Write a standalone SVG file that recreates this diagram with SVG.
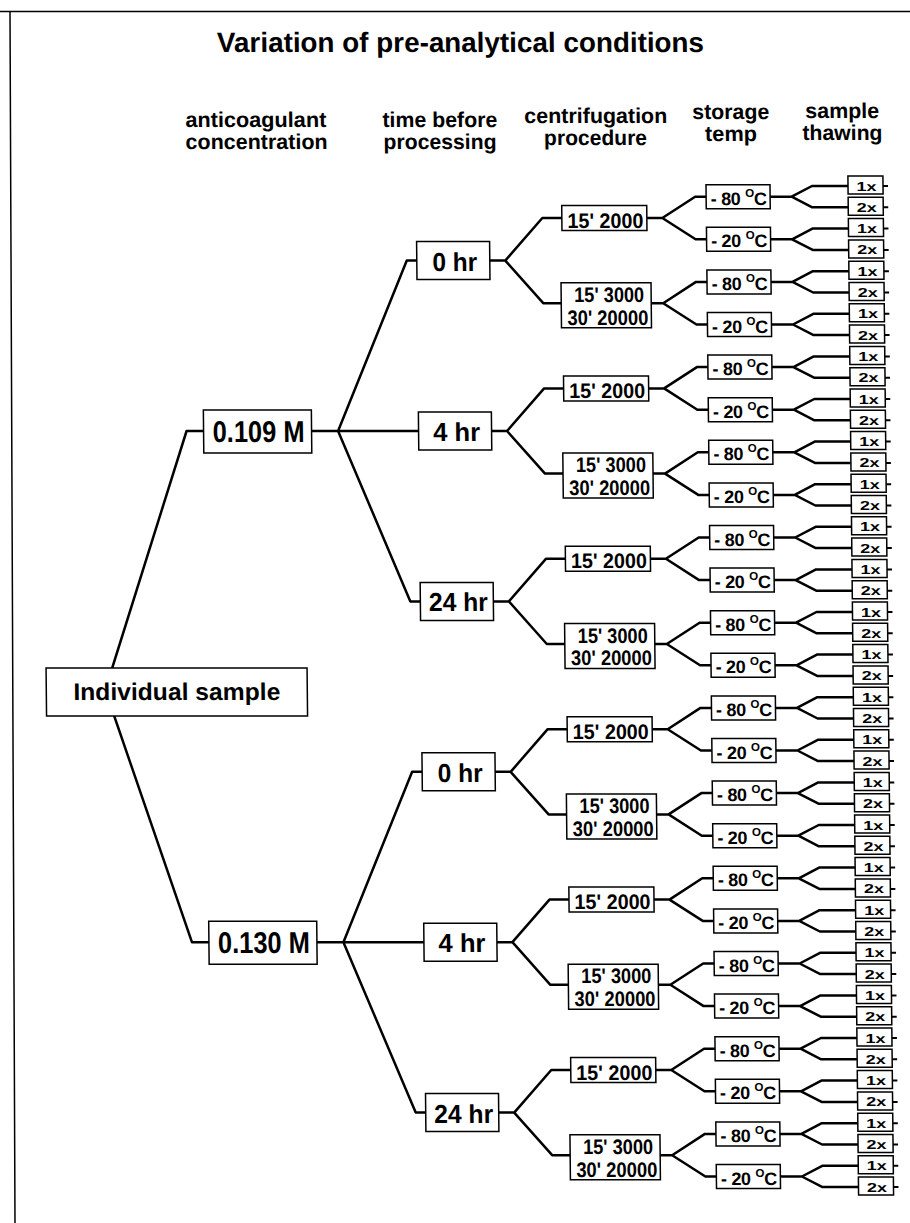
<svg xmlns="http://www.w3.org/2000/svg" width="910" height="1223" viewBox="0 0 910 1223">
<style>
text{font-family:"Liberation Sans",Arial,sans-serif;font-weight:bold;fill:#000;text-anchor:middle}
.box rect{fill:#fff;stroke:#000;stroke-width:1.5}
#connectors path{fill:none;stroke:#000;stroke-width:2.5;stroke-linejoin:round}
#connectors path.tick{stroke-width:2}
.title{font-size:28px}
.hdr{font-size:21.5px}
.root text{font-size:24px}
.anti text{font-size:30px}
.time text{font-size:26px}
.cent text{font-size:21px}
.stor text{font-size:18px;letter-spacing:-0.3px}
.stor tspan.o{font-size:11.5px}
.leaf text{font-size:13px}
</style>
<rect width="910" height="1223" fill="#fff"/>
<path d="M0 11.5 H910 M10 11.5 L15 1223" stroke="#000" stroke-width="1.5" fill="none"/>
<g transform="translate(-1.94,0) skewX(0.6)">
<g id="headers">
<text class="title" x="462" y="52" textLength="487" lengthAdjust="spacingAndGlyphs">Variation of pre-analytical conditions</text>
<text class="hdr" x="256.5" y="127" textLength="141" lengthAdjust="spacingAndGlyphs">anticoagulant</text>
<text class="hdr" x="257" y="149" textLength="142" lengthAdjust="spacingAndGlyphs">concentration</text>
<text class="hdr" x="440.5" y="127" textLength="115" lengthAdjust="spacingAndGlyphs">time before</text>
<text class="hdr" x="440.5" y="149" textLength="113" lengthAdjust="spacingAndGlyphs">processing</text>
<text class="hdr" x="596.5" y="123" textLength="143" lengthAdjust="spacingAndGlyphs">centrifugation</text>
<text class="hdr" x="596" y="145" textLength="103" lengthAdjust="spacingAndGlyphs">procedure</text>
<text class="hdr" x="731.5" y="119" textLength="77" lengthAdjust="spacingAndGlyphs">storage</text>
<text class="hdr" x="731.5" y="141" textLength="52" lengthAdjust="spacingAndGlyphs">temp</text>
<text class="hdr" x="843" y="118" textLength="74" lengthAdjust="spacingAndGlyphs">sample</text>
<text class="hdr" x="843" y="140" textLength="80" lengthAdjust="spacingAndGlyphs">thawing</text>
</g>
<g id="connectors">
<path d="M100 690 L184 431 H201 M100 690 L184 942.2 H201"/>
<path d="M309 431 H335.5 L406 260.6 H416 M335.5 431 H416 M335.5 431 L406 601.4 H416"/>
<path d="M309 942.2 H335.5 L406 771.8 H416 M335.5 942.2 H416 M335.5 942.2 L406 1112.6 H416"/>
<path d="M489 260.6 H504.5 L542 218 H561.5 M504.5 260.6 L542 303.2 H560"/>
<path d="M489 431 H504.5 L542 388.4 H561.5 M504.5 431 L542 473.6 H560"/>
<path d="M489 601.4 H504.5 L542 558.8 H561.5 M504.5 601.4 L542 644 H560"/>
<path d="M489 771.8 H504.5 L542 729.2 H561.5 M504.5 771.8 L542 814.4 H560"/>
<path d="M489 942.2 H504.5 L542 899.6 H561.5 M504.5 942.2 L542 984.8 H560"/>
<path d="M489 1112.6 H504.5 L542 1070 H561.5 M504.5 1112.6 L542 1155.2 H560"/>
<path d="M646.5 218 H662 L695 196.7 H706 M662 218 L695 239.3 H706"/>
<path d="M650 303.2 H662 L695 281.9 H706 M662 303.2 L695 324.5 H706"/>
<path d="M646.5 388.4 H662 L695 367.1 H706 M662 388.4 L695 409.7 H706"/>
<path d="M650 473.6 H662 L695 452.3 H706 M662 473.6 L695 494.9 H706"/>
<path d="M646.5 558.8 H662 L695 537.5 H706 M662 558.8 L695 580.1 H706"/>
<path d="M650 644 H662 L695 622.7 H706 M662 644 L695 665.3 H706"/>
<path d="M646.5 729.2 H662 L695 707.9 H706 M662 729.2 L695 750.5 H706"/>
<path d="M650 814.4 H662 L695 793.1 H706 M662 814.4 L695 835.7 H706"/>
<path d="M646.5 899.6 H662 L695 878.3 H706 M662 899.6 L695 920.9 H706"/>
<path d="M650 984.8 H662 L695 963.5 H706 M662 984.8 L695 1006.1 H706"/>
<path d="M646.5 1070 H662 L695 1048.7 H706 M662 1070 L695 1091.3 H706"/>
<path d="M650 1155.2 H662 L695 1133.9 H706 M662 1155.2 L695 1176.5 H706"/>
<path d="M770 196.7 H791.5 L812 186 H848 M791.5 196.7 L812 207.3 H848"/>
<path d="M770 239.3 H791.5 L812 228.6 H848 M791.5 239.3 L812 249.9 H848"/>
<path d="M770 281.9 H791.5 L812 271.2 H848 M791.5 281.9 L812 292.5 H848"/>
<path d="M770 324.5 H791.5 L812 313.8 H848 M791.5 324.5 L812 335.1 H848"/>
<path d="M770 367.1 H791.5 L812 356.4 H848 M791.5 367.1 L812 377.7 H848"/>
<path d="M770 409.7 H791.5 L812 399 H848 M791.5 409.7 L812 420.3 H848"/>
<path d="M770 452.3 H791.5 L812 441.6 H848 M791.5 452.3 L812 462.9 H848"/>
<path d="M770 494.9 H791.5 L812 484.2 H848 M791.5 494.9 L812 505.5 H848"/>
<path d="M770 537.5 H791.5 L812 526.8 H848 M791.5 537.5 L812 548.1 H848"/>
<path d="M770 580.1 H791.5 L812 569.4 H848 M791.5 580.1 L812 590.7 H848"/>
<path d="M770 622.7 H791.5 L812 612 H848 M791.5 622.7 L812 633.3 H848"/>
<path d="M770 665.3 H791.5 L812 654.6 H848 M791.5 665.3 L812 675.9 H848"/>
<path d="M770 707.9 H791.5 L812 697.2 H848 M791.5 707.9 L812 718.5 H848"/>
<path d="M770 750.5 H791.5 L812 739.8 H848 M791.5 750.5 L812 761.1 H848"/>
<path d="M770 793.1 H791.5 L812 782.4 H848 M791.5 793.1 L812 803.7 H848"/>
<path d="M770 835.7 H791.5 L812 825 H848 M791.5 835.7 L812 846.3 H848"/>
<path d="M770 878.3 H791.5 L812 867.6 H848 M791.5 878.3 L812 888.9 H848"/>
<path d="M770 920.9 H791.5 L812 910.2 H848 M791.5 920.9 L812 931.5 H848"/>
<path d="M770 963.5 H791.5 L812 952.8 H848 M791.5 963.5 L812 974.1 H848"/>
<path d="M770 1006.1 H791.5 L812 995.4 H848 M791.5 1006.1 L812 1016.7 H848"/>
<path d="M770 1048.7 H791.5 L812 1038 H848 M791.5 1048.7 L812 1059.3 H848"/>
<path d="M770 1091.3 H791.5 L812 1080.6 H848 M791.5 1091.3 L812 1101.9 H848"/>
<path d="M770 1133.9 H791.5 L812 1123.2 H848 M791.5 1133.9 L812 1144.5 H848"/>
<path d="M770 1176.5 H791.5 L812 1165.8 H848 M791.5 1176.5 L812 1187.1 H848"/>
<path class="tick" d="M883 186H888M883 207.3H888M883 228.6H888M883 249.9H888M883 271.2H888M883 292.5H888M883 313.8H888M883 335.1H888M883 356.4H888M883 377.7H888M883 399H888M883 420.3H888M883 441.6H888M883 462.9H888M883 484.2H888M883 505.5H888M883 526.8H888M883 548.1H888M883 569.4H888M883 590.7H888M883 612H888M883 633.3H888M883 654.6H888M883 675.9H888M883 697.2H888M883 718.5H888M883 739.8H888M883 761.1H888M883 782.4H888M883 803.7H888M883 825H888M883 846.3H888M883 867.6H888M883 888.9H888M883 910.2H888M883 931.5H888M883 952.8H888M883 974.1H888M883 995.4H888M883 1016.7H888M883 1038H888M883 1059.3H888M883 1080.6H888M883 1101.9H888M883 1123.2H888M883 1144.5H888M883 1165.8H888M883 1187.1H888"/>
</g>
<g id="n-root" class="box root"><rect x="41" y="668" width="261" height="48"/><text x="171.5" y="700" textLength="207" lengthAdjust="spacingAndGlyphs">Individual sample</text></g>
<g id="n-a0109" class="box anti" transform="translate(201,431)"><rect x="0" y="-21" width="108" height="43"/><text x="55" y="10.5" textLength="92" lengthAdjust="spacingAndGlyphs">0.109 M</text></g>
<g id="n-a0130" class="box anti" transform="translate(201,942.2)"><rect x="0" y="-21" width="108" height="43"/><text x="55" y="10.5" textLength="92" lengthAdjust="spacingAndGlyphs">0.130 M</text></g>
<g id="n-t0" class="box time" transform="translate(416,260.6)"><rect x="0" y="-19" width="73" height="38"/><text x="38" y="10" textLength="45" lengthAdjust="spacingAndGlyphs">0 hr</text></g>
<g id="n-t1" class="box time" transform="translate(416,431)"><rect x="0" y="-19" width="73" height="38"/><text x="38" y="10" textLength="47" lengthAdjust="spacingAndGlyphs">4 hr</text></g>
<g id="n-t2" class="box time" transform="translate(416,601.4)"><rect x="0" y="-19" width="73" height="38"/><text x="38" y="10" textLength="59" lengthAdjust="spacingAndGlyphs">24 hr</text></g>
<g id="n-t3" class="box time" transform="translate(416,771.8)"><rect x="0" y="-19" width="73" height="38"/><text x="38" y="10" textLength="45" lengthAdjust="spacingAndGlyphs">0 hr</text></g>
<g id="n-t4" class="box time" transform="translate(416,942.2)"><rect x="0" y="-19" width="73" height="38"/><text x="38" y="10" textLength="47" lengthAdjust="spacingAndGlyphs">4 hr</text></g>
<g id="n-t5" class="box time" transform="translate(416,1112.6)"><rect x="0" y="-19" width="73" height="38"/><text x="38" y="10" textLength="59" lengthAdjust="spacingAndGlyphs">24 hr</text></g>
<g id="n-c0" class="box cent" transform="translate(561.5,218)"><rect x="0" y="-12.5" width="85" height="25"/><text x="43.5" y="9.5" textLength="76" lengthAdjust="spacingAndGlyphs">15' 2000</text></g>
<g id="n-c1" class="box cent" transform="translate(560,303.2)"><rect x="0" y="-20.5" width="90" height="45"/><text x="48" y="-1.5" textLength="70" lengthAdjust="spacingAndGlyphs">15' 3000</text><text x="46.5" y="21.5" textLength="81" lengthAdjust="spacingAndGlyphs">30' 20000</text></g>
<g id="n-c2" class="box cent" transform="translate(561.5,388.4)"><rect x="0" y="-12.5" width="85" height="25"/><text x="43.5" y="9.5" textLength="76" lengthAdjust="spacingAndGlyphs">15' 2000</text></g>
<g id="n-c3" class="box cent" transform="translate(560,473.6)"><rect x="0" y="-20.5" width="90" height="45"/><text x="48" y="-1.5" textLength="70" lengthAdjust="spacingAndGlyphs">15' 3000</text><text x="46.5" y="21.5" textLength="81" lengthAdjust="spacingAndGlyphs">30' 20000</text></g>
<g id="n-c4" class="box cent" transform="translate(561.5,558.8)"><rect x="0" y="-12.5" width="85" height="25"/><text x="43.5" y="9.5" textLength="76" lengthAdjust="spacingAndGlyphs">15' 2000</text></g>
<g id="n-c5" class="box cent" transform="translate(560,644)"><rect x="0" y="-20.5" width="90" height="45"/><text x="48" y="-1.5" textLength="70" lengthAdjust="spacingAndGlyphs">15' 3000</text><text x="46.5" y="21.5" textLength="81" lengthAdjust="spacingAndGlyphs">30' 20000</text></g>
<g id="n-c6" class="box cent" transform="translate(561.5,729.2)"><rect x="0" y="-12.5" width="85" height="25"/><text x="43.5" y="9.5" textLength="76" lengthAdjust="spacingAndGlyphs">15' 2000</text></g>
<g id="n-c7" class="box cent" transform="translate(560,814.4)"><rect x="0" y="-20.5" width="90" height="45"/><text x="48" y="-1.5" textLength="70" lengthAdjust="spacingAndGlyphs">15' 3000</text><text x="46.5" y="21.5" textLength="81" lengthAdjust="spacingAndGlyphs">30' 20000</text></g>
<g id="n-c8" class="box cent" transform="translate(561.5,899.6)"><rect x="0" y="-12.5" width="85" height="25"/><text x="43.5" y="9.5" textLength="76" lengthAdjust="spacingAndGlyphs">15' 2000</text></g>
<g id="n-c9" class="box cent" transform="translate(560,984.8)"><rect x="0" y="-20.5" width="90" height="45"/><text x="48" y="-1.5" textLength="70" lengthAdjust="spacingAndGlyphs">15' 3000</text><text x="46.5" y="21.5" textLength="81" lengthAdjust="spacingAndGlyphs">30' 20000</text></g>
<g id="n-c10" class="box cent" transform="translate(561.5,1070)"><rect x="0" y="-12.5" width="85" height="25"/><text x="43.5" y="9.5" textLength="76" lengthAdjust="spacingAndGlyphs">15' 2000</text></g>
<g id="n-c11" class="box cent" transform="translate(560,1155.2)"><rect x="0" y="-20.5" width="90" height="45"/><text x="48" y="-1.5" textLength="70" lengthAdjust="spacingAndGlyphs">15' 3000</text><text x="46.5" y="21.5" textLength="81" lengthAdjust="spacingAndGlyphs">30' 20000</text></g>
<g id="n-s0" class="box stor" transform="translate(706,196.7)"><rect x="0" y="-12" width="64" height="24"/><text x="32.5" y="8">- 80 <tspan class="o" dy="-8">O</tspan><tspan dy="8">C</tspan></text></g>
<g id="n-s1" class="box stor" transform="translate(706,239.3)"><rect x="0" y="-12" width="64" height="24"/><text x="32.5" y="8">- 20 <tspan class="o" dy="-8">O</tspan><tspan dy="8">C</tspan></text></g>
<g id="n-s2" class="box stor" transform="translate(706,281.9)"><rect x="0" y="-12" width="64" height="24"/><text x="32.5" y="8">- 80 <tspan class="o" dy="-8">O</tspan><tspan dy="8">C</tspan></text></g>
<g id="n-s3" class="box stor" transform="translate(706,324.5)"><rect x="0" y="-12" width="64" height="24"/><text x="32.5" y="8">- 20 <tspan class="o" dy="-8">O</tspan><tspan dy="8">C</tspan></text></g>
<g id="n-s4" class="box stor" transform="translate(706,367.1)"><rect x="0" y="-12" width="64" height="24"/><text x="32.5" y="8">- 80 <tspan class="o" dy="-8">O</tspan><tspan dy="8">C</tspan></text></g>
<g id="n-s5" class="box stor" transform="translate(706,409.7)"><rect x="0" y="-12" width="64" height="24"/><text x="32.5" y="8">- 20 <tspan class="o" dy="-8">O</tspan><tspan dy="8">C</tspan></text></g>
<g id="n-s6" class="box stor" transform="translate(706,452.3)"><rect x="0" y="-12" width="64" height="24"/><text x="32.5" y="8">- 80 <tspan class="o" dy="-8">O</tspan><tspan dy="8">C</tspan></text></g>
<g id="n-s7" class="box stor" transform="translate(706,494.9)"><rect x="0" y="-12" width="64" height="24"/><text x="32.5" y="8">- 20 <tspan class="o" dy="-8">O</tspan><tspan dy="8">C</tspan></text></g>
<g id="n-s8" class="box stor" transform="translate(706,537.5)"><rect x="0" y="-12" width="64" height="24"/><text x="32.5" y="8">- 80 <tspan class="o" dy="-8">O</tspan><tspan dy="8">C</tspan></text></g>
<g id="n-s9" class="box stor" transform="translate(706,580.1)"><rect x="0" y="-12" width="64" height="24"/><text x="32.5" y="8">- 20 <tspan class="o" dy="-8">O</tspan><tspan dy="8">C</tspan></text></g>
<g id="n-s10" class="box stor" transform="translate(706,622.7)"><rect x="0" y="-12" width="64" height="24"/><text x="32.5" y="8">- 80 <tspan class="o" dy="-8">O</tspan><tspan dy="8">C</tspan></text></g>
<g id="n-s11" class="box stor" transform="translate(706,665.3)"><rect x="0" y="-12" width="64" height="24"/><text x="32.5" y="8">- 20 <tspan class="o" dy="-8">O</tspan><tspan dy="8">C</tspan></text></g>
<g id="n-s12" class="box stor" transform="translate(706,707.9)"><rect x="0" y="-12" width="64" height="24"/><text x="32.5" y="8">- 80 <tspan class="o" dy="-8">O</tspan><tspan dy="8">C</tspan></text></g>
<g id="n-s13" class="box stor" transform="translate(706,750.5)"><rect x="0" y="-12" width="64" height="24"/><text x="32.5" y="8">- 20 <tspan class="o" dy="-8">O</tspan><tspan dy="8">C</tspan></text></g>
<g id="n-s14" class="box stor" transform="translate(706,793.1)"><rect x="0" y="-12" width="64" height="24"/><text x="32.5" y="8">- 80 <tspan class="o" dy="-8">O</tspan><tspan dy="8">C</tspan></text></g>
<g id="n-s15" class="box stor" transform="translate(706,835.7)"><rect x="0" y="-12" width="64" height="24"/><text x="32.5" y="8">- 20 <tspan class="o" dy="-8">O</tspan><tspan dy="8">C</tspan></text></g>
<g id="n-s16" class="box stor" transform="translate(706,878.3)"><rect x="0" y="-12" width="64" height="24"/><text x="32.5" y="8">- 80 <tspan class="o" dy="-8">O</tspan><tspan dy="8">C</tspan></text></g>
<g id="n-s17" class="box stor" transform="translate(706,920.9)"><rect x="0" y="-12" width="64" height="24"/><text x="32.5" y="8">- 20 <tspan class="o" dy="-8">O</tspan><tspan dy="8">C</tspan></text></g>
<g id="n-s18" class="box stor" transform="translate(706,963.5)"><rect x="0" y="-12" width="64" height="24"/><text x="32.5" y="8">- 80 <tspan class="o" dy="-8">O</tspan><tspan dy="8">C</tspan></text></g>
<g id="n-s19" class="box stor" transform="translate(706,1006.1)"><rect x="0" y="-12" width="64" height="24"/><text x="32.5" y="8">- 20 <tspan class="o" dy="-8">O</tspan><tspan dy="8">C</tspan></text></g>
<g id="n-s20" class="box stor" transform="translate(706,1048.7)"><rect x="0" y="-12" width="64" height="24"/><text x="32.5" y="8">- 80 <tspan class="o" dy="-8">O</tspan><tspan dy="8">C</tspan></text></g>
<g id="n-s21" class="box stor" transform="translate(706,1091.3)"><rect x="0" y="-12" width="64" height="24"/><text x="32.5" y="8">- 20 <tspan class="o" dy="-8">O</tspan><tspan dy="8">C</tspan></text></g>
<g id="n-s22" class="box stor" transform="translate(706,1133.9)"><rect x="0" y="-12" width="64" height="24"/><text x="32.5" y="8">- 80 <tspan class="o" dy="-8">O</tspan><tspan dy="8">C</tspan></text></g>
<g id="n-s23" class="box stor" transform="translate(706,1176.5)"><rect x="0" y="-12" width="64" height="24"/><text x="32.5" y="8">- 20 <tspan class="o" dy="-8">O</tspan><tspan dy="8">C</tspan></text></g>
<g id="n-l0" class="box leaf" transform="translate(848,186)"><rect x="0" y="-10" width="35" height="18"/><text x="18.5" y="4.5" textLength="20" lengthAdjust="spacingAndGlyphs">1x</text></g>
<g id="n-l1" class="box leaf" transform="translate(848,207.3)"><rect x="0" y="-10" width="35" height="18"/><text x="18.5" y="4.5" textLength="20" lengthAdjust="spacingAndGlyphs">2x</text></g>
<g id="n-l2" class="box leaf" transform="translate(848,228.6)"><rect x="0" y="-10" width="35" height="18"/><text x="18.5" y="4.5" textLength="20" lengthAdjust="spacingAndGlyphs">1x</text></g>
<g id="n-l3" class="box leaf" transform="translate(848,249.9)"><rect x="0" y="-10" width="35" height="18"/><text x="18.5" y="4.5" textLength="20" lengthAdjust="spacingAndGlyphs">2x</text></g>
<g id="n-l4" class="box leaf" transform="translate(848,271.2)"><rect x="0" y="-10" width="35" height="18"/><text x="18.5" y="4.5" textLength="20" lengthAdjust="spacingAndGlyphs">1x</text></g>
<g id="n-l5" class="box leaf" transform="translate(848,292.5)"><rect x="0" y="-10" width="35" height="18"/><text x="18.5" y="4.5" textLength="20" lengthAdjust="spacingAndGlyphs">2x</text></g>
<g id="n-l6" class="box leaf" transform="translate(848,313.8)"><rect x="0" y="-10" width="35" height="18"/><text x="18.5" y="4.5" textLength="20" lengthAdjust="spacingAndGlyphs">1x</text></g>
<g id="n-l7" class="box leaf" transform="translate(848,335.1)"><rect x="0" y="-10" width="35" height="18"/><text x="18.5" y="4.5" textLength="20" lengthAdjust="spacingAndGlyphs">2x</text></g>
<g id="n-l8" class="box leaf" transform="translate(848,356.4)"><rect x="0" y="-10" width="35" height="18"/><text x="18.5" y="4.5" textLength="20" lengthAdjust="spacingAndGlyphs">1x</text></g>
<g id="n-l9" class="box leaf" transform="translate(848,377.7)"><rect x="0" y="-10" width="35" height="18"/><text x="18.5" y="4.5" textLength="20" lengthAdjust="spacingAndGlyphs">2x</text></g>
<g id="n-l10" class="box leaf" transform="translate(848,399)"><rect x="0" y="-10" width="35" height="18"/><text x="18.5" y="4.5" textLength="20" lengthAdjust="spacingAndGlyphs">1x</text></g>
<g id="n-l11" class="box leaf" transform="translate(848,420.3)"><rect x="0" y="-10" width="35" height="18"/><text x="18.5" y="4.5" textLength="20" lengthAdjust="spacingAndGlyphs">2x</text></g>
<g id="n-l12" class="box leaf" transform="translate(848,441.6)"><rect x="0" y="-10" width="35" height="18"/><text x="18.5" y="4.5" textLength="20" lengthAdjust="spacingAndGlyphs">1x</text></g>
<g id="n-l13" class="box leaf" transform="translate(848,462.9)"><rect x="0" y="-10" width="35" height="18"/><text x="18.5" y="4.5" textLength="20" lengthAdjust="spacingAndGlyphs">2x</text></g>
<g id="n-l14" class="box leaf" transform="translate(848,484.2)"><rect x="0" y="-10" width="35" height="18"/><text x="18.5" y="4.5" textLength="20" lengthAdjust="spacingAndGlyphs">1x</text></g>
<g id="n-l15" class="box leaf" transform="translate(848,505.5)"><rect x="0" y="-10" width="35" height="18"/><text x="18.5" y="4.5" textLength="20" lengthAdjust="spacingAndGlyphs">2x</text></g>
<g id="n-l16" class="box leaf" transform="translate(848,526.8)"><rect x="0" y="-10" width="35" height="18"/><text x="18.5" y="4.5" textLength="20" lengthAdjust="spacingAndGlyphs">1x</text></g>
<g id="n-l17" class="box leaf" transform="translate(848,548.1)"><rect x="0" y="-10" width="35" height="18"/><text x="18.5" y="4.5" textLength="20" lengthAdjust="spacingAndGlyphs">2x</text></g>
<g id="n-l18" class="box leaf" transform="translate(848,569.4)"><rect x="0" y="-10" width="35" height="18"/><text x="18.5" y="4.5" textLength="20" lengthAdjust="spacingAndGlyphs">1x</text></g>
<g id="n-l19" class="box leaf" transform="translate(848,590.7)"><rect x="0" y="-10" width="35" height="18"/><text x="18.5" y="4.5" textLength="20" lengthAdjust="spacingAndGlyphs">2x</text></g>
<g id="n-l20" class="box leaf" transform="translate(848,612)"><rect x="0" y="-10" width="35" height="18"/><text x="18.5" y="4.5" textLength="20" lengthAdjust="spacingAndGlyphs">1x</text></g>
<g id="n-l21" class="box leaf" transform="translate(848,633.3)"><rect x="0" y="-10" width="35" height="18"/><text x="18.5" y="4.5" textLength="20" lengthAdjust="spacingAndGlyphs">2x</text></g>
<g id="n-l22" class="box leaf" transform="translate(848,654.6)"><rect x="0" y="-10" width="35" height="18"/><text x="18.5" y="4.5" textLength="20" lengthAdjust="spacingAndGlyphs">1x</text></g>
<g id="n-l23" class="box leaf" transform="translate(848,675.9)"><rect x="0" y="-10" width="35" height="18"/><text x="18.5" y="4.5" textLength="20" lengthAdjust="spacingAndGlyphs">2x</text></g>
<g id="n-l24" class="box leaf" transform="translate(848,697.2)"><rect x="0" y="-10" width="35" height="18"/><text x="18.5" y="4.5" textLength="20" lengthAdjust="spacingAndGlyphs">1x</text></g>
<g id="n-l25" class="box leaf" transform="translate(848,718.5)"><rect x="0" y="-10" width="35" height="18"/><text x="18.5" y="4.5" textLength="20" lengthAdjust="spacingAndGlyphs">2x</text></g>
<g id="n-l26" class="box leaf" transform="translate(848,739.8)"><rect x="0" y="-10" width="35" height="18"/><text x="18.5" y="4.5" textLength="20" lengthAdjust="spacingAndGlyphs">1x</text></g>
<g id="n-l27" class="box leaf" transform="translate(848,761.1)"><rect x="0" y="-10" width="35" height="18"/><text x="18.5" y="4.5" textLength="20" lengthAdjust="spacingAndGlyphs">2x</text></g>
<g id="n-l28" class="box leaf" transform="translate(848,782.4)"><rect x="0" y="-10" width="35" height="18"/><text x="18.5" y="4.5" textLength="20" lengthAdjust="spacingAndGlyphs">1x</text></g>
<g id="n-l29" class="box leaf" transform="translate(848,803.7)"><rect x="0" y="-10" width="35" height="18"/><text x="18.5" y="4.5" textLength="20" lengthAdjust="spacingAndGlyphs">2x</text></g>
<g id="n-l30" class="box leaf" transform="translate(848,825)"><rect x="0" y="-10" width="35" height="18"/><text x="18.5" y="4.5" textLength="20" lengthAdjust="spacingAndGlyphs">1x</text></g>
<g id="n-l31" class="box leaf" transform="translate(848,846.3)"><rect x="0" y="-10" width="35" height="18"/><text x="18.5" y="4.5" textLength="20" lengthAdjust="spacingAndGlyphs">2x</text></g>
<g id="n-l32" class="box leaf" transform="translate(848,867.6)"><rect x="0" y="-10" width="35" height="18"/><text x="18.5" y="4.5" textLength="20" lengthAdjust="spacingAndGlyphs">1x</text></g>
<g id="n-l33" class="box leaf" transform="translate(848,888.9)"><rect x="0" y="-10" width="35" height="18"/><text x="18.5" y="4.5" textLength="20" lengthAdjust="spacingAndGlyphs">2x</text></g>
<g id="n-l34" class="box leaf" transform="translate(848,910.2)"><rect x="0" y="-10" width="35" height="18"/><text x="18.5" y="4.5" textLength="20" lengthAdjust="spacingAndGlyphs">1x</text></g>
<g id="n-l35" class="box leaf" transform="translate(848,931.5)"><rect x="0" y="-10" width="35" height="18"/><text x="18.5" y="4.5" textLength="20" lengthAdjust="spacingAndGlyphs">2x</text></g>
<g id="n-l36" class="box leaf" transform="translate(848,952.8)"><rect x="0" y="-10" width="35" height="18"/><text x="18.5" y="4.5" textLength="20" lengthAdjust="spacingAndGlyphs">1x</text></g>
<g id="n-l37" class="box leaf" transform="translate(848,974.1)"><rect x="0" y="-10" width="35" height="18"/><text x="18.5" y="4.5" textLength="20" lengthAdjust="spacingAndGlyphs">2x</text></g>
<g id="n-l38" class="box leaf" transform="translate(848,995.4)"><rect x="0" y="-10" width="35" height="18"/><text x="18.5" y="4.5" textLength="20" lengthAdjust="spacingAndGlyphs">1x</text></g>
<g id="n-l39" class="box leaf" transform="translate(848,1016.7)"><rect x="0" y="-10" width="35" height="18"/><text x="18.5" y="4.5" textLength="20" lengthAdjust="spacingAndGlyphs">2x</text></g>
<g id="n-l40" class="box leaf" transform="translate(848,1038)"><rect x="0" y="-10" width="35" height="18"/><text x="18.5" y="4.5" textLength="20" lengthAdjust="spacingAndGlyphs">1x</text></g>
<g id="n-l41" class="box leaf" transform="translate(848,1059.3)"><rect x="0" y="-10" width="35" height="18"/><text x="18.5" y="4.5" textLength="20" lengthAdjust="spacingAndGlyphs">2x</text></g>
<g id="n-l42" class="box leaf" transform="translate(848,1080.6)"><rect x="0" y="-10" width="35" height="18"/><text x="18.5" y="4.5" textLength="20" lengthAdjust="spacingAndGlyphs">1x</text></g>
<g id="n-l43" class="box leaf" transform="translate(848,1101.9)"><rect x="0" y="-10" width="35" height="18"/><text x="18.5" y="4.5" textLength="20" lengthAdjust="spacingAndGlyphs">2x</text></g>
<g id="n-l44" class="box leaf" transform="translate(848,1123.2)"><rect x="0" y="-10" width="35" height="18"/><text x="18.5" y="4.5" textLength="20" lengthAdjust="spacingAndGlyphs">1x</text></g>
<g id="n-l45" class="box leaf" transform="translate(848,1144.5)"><rect x="0" y="-10" width="35" height="18"/><text x="18.5" y="4.5" textLength="20" lengthAdjust="spacingAndGlyphs">2x</text></g>
<g id="n-l46" class="box leaf" transform="translate(848,1165.8)"><rect x="0" y="-10" width="35" height="18"/><text x="18.5" y="4.5" textLength="20" lengthAdjust="spacingAndGlyphs">1x</text></g>
<g id="n-l47" class="box leaf" transform="translate(848,1187.1)"><rect x="0" y="-10" width="35" height="18"/><text x="18.5" y="4.5" textLength="20" lengthAdjust="spacingAndGlyphs">2x</text></g>
</g>
</svg>
